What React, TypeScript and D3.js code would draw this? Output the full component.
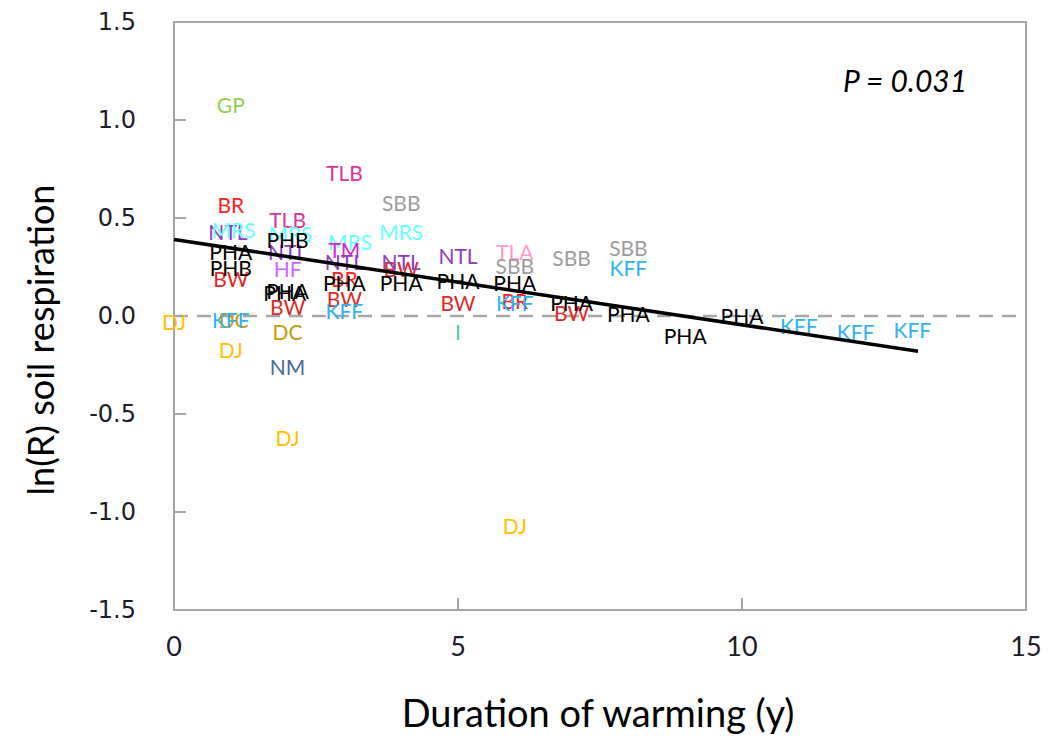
import React, { useEffect } from 'react';
import * as d3 from 'd3';

// site codes, in the order they are drawn (later ones sit on top)
const sites = [
  'DJ', 'GP', 'BR', 'NTL', 'MRS', 'PHA', 'BW', 'PHB', 'DC', 'KFF', 'DJ',
  'TLB', 'MRS', 'NTL', 'PHB', 'HF', 'PHA', 'PHA', 'BW', 'DC', 'NM', 'DJ',
  'TLB', 'MRS', 'TM', 'NTL', 'BR', 'PHA', 'BW', 'KFF',
  'SBB', 'MRS', 'BW', 'NTL', 'PHA',
  'NTL', 'PHA', 'BW', 'I',
  'TLA', 'SBB', 'PHA', 'BR', 'KFF', 'DJ',
  'SBB', 'BW', 'PHA',
  'SBB', 'KFF', 'PHA',
  'PHA', 'PHA', 'KFF', 'KFF', 'KFF',
];
const durations = [
  0, 1.0, 1.0, 0.95, 1.05, 1.0, 1.0, 1.0, 1.05, 1.0, 1.0,
  2.0, 2.05, 2.0, 2.0, 2.0, 1.95, 2.0, 2.0, 2.0, 2.0, 2.0,
  3.0, 3.1, 3.0, 3.0, 3.0, 3.0, 3.0, 3.0,
  4.0, 4.0, 4.0, 4.0, 4.0,
  5.0, 5.0, 5.0, 5.0,
  6.0, 6.0, 6.0, 6.0, 6.0, 6.0,
  7.0, 7.0, 7.0,
  8.0, 8.0, 8.0,
  9.0, 10.0, 11.0, 12.0, 13.0,
];
const lnR = [
  -0.03, 1.08, 0.57, 0.43, 0.44, 0.33, 0.19, 0.25, -0.02, -0.02, -0.17,
  0.49, 0.42, 0.33, 0.39, 0.24, 0.12, 0.13, 0.05, -0.08, -0.26, -0.62,
  0.73, 0.38, 0.34, 0.28, 0.19, 0.17, 0.09, 0.03,
  0.58, 0.43, 0.24, 0.28, 0.17,
  0.31, 0.18, 0.07, -0.08,
  0.33, 0.26, 0.17, 0.08, 0.07, -1.07,
  0.30, 0.02, 0.07,
  0.35, 0.25, 0.015,
  -0.1, 0.005, -0.05, -0.08, -0.07,
];

const xTicks = [0, 5, 10, 15];
const yTicks = [-1.5, -1.0, -0.5, 0.0, 0.5, 1.0, 1.5];

// fitted line: ln(R) = intercept + slope * duration
const fitIntercept = 0.39;
const fitSlope = -0.0435;
const fitRange = [0, 13.1];

const siteColors: Record<string, string> = {
  DJ: '#FFC000',
  GP: '#92D050',
  BR: '#FF2020',
  NTL: '#8E3CC0',
  MRS: '#66FFFF',
  PHA: '#000000',
  PHB: '#000000',
  BW: '#E02828',
  KFF: '#2EB2F0',
  DC: '#CC9A10',
  TLB: '#E0309A',
  HF: '#CC66FF',
  NM: '#4A6A96',
  TM: '#E020D0',
  SBB: '#9C9C9C',
  I: '#4CC8A8',
  TLA: '#FF99CC',
};

export default function App() {
  useEffect(() => {
    document.body.style.margin = '0';
  }, []);

  const width = 1049;
  const height = 736;
  const margin = { top: 22, right: 23, bottom: 126, left: 174 };

  const x = d3.scaleLinear().domain([0, 15]).range([margin.left, width - margin.right]);
  const y = d3.scaleLinear().domain([-1.5, 1.5]).range([height - margin.bottom, margin.top]);

  const points = sites.map((s, i) => ({ site: s, d: durations[i], r: lnR[i] }));
  const fit = d3.line<number>()
    .x(v => x(v))
    .y(v => y(fitIntercept + fitSlope * v));

  const axisGray = '#A6A6A6';
  const labelFont = 'Lato, "Open Sans", sans-serif';

  return (
    <svg width={width} height={height} style={{ display: 'block', background: '#fff' }}>
      {/* plot frame */}
      <rect
        x={x(0)} y={y(1.5)}
        width={x(15) - x(0)} height={y(-1.5) - y(1.5)}
        fill="none" stroke={axisGray} strokeWidth={2}
      />

      {/* y ticks and labels */}
      {yTicks.map(t => (
        <g key={'y' + t}>
          <line x1={x(0)} x2={x(0) + 12} y1={y(t)} y2={y(t)} stroke={axisGray} strokeWidth={2} />
          <text
            x={x(0) - 38} y={y(t)} textAnchor="end" dominantBaseline="central"
            fontFamily="DejaVu Sans, sans-serif" fontSize={24} fill="#1c1c2a"
          >
            {t.toFixed(1)}
          </text>
        </g>
      ))}

      {/* x ticks and labels */}
      {xTicks.map(t => (
        <g key={'x' + t}>
          <line x1={x(t)} x2={x(t)} y1={y(-1.5)} y2={y(-1.5) - 12} stroke={axisGray} strokeWidth={2} />
          <text
            x={x(t)} y={y(-1.5) + 35} textAnchor="middle" dominantBaseline="central"
            fontFamily={labelFont} fontSize={27} fill="#1c1c2a"
          >
            {t}
          </text>
        </g>
      ))}

      {/* zero reference */}
      <line
        x1={x(0)} x2={x(15)} y1={y(0)} y2={y(0)}
        stroke={axisGray} strokeWidth={2.5} strokeDasharray="14 9"
      />

      {/* site labels used as markers */}
      {points.map((p, i) => (
        <text
          key={i}
          x={x(p.d)} y={y(p.r)}
          textAnchor="middle" dominantBaseline="central"
          fontFamily={labelFont} fontSize={21}
          fill={siteColors[p.site]}
        >
          {p.site}
        </text>
      ))}

      {/* regression line */}
      <path d={fit(fitRange) ?? ''} fill="none" stroke="#000" strokeWidth={3.5} />

      <text
        x={905} y={80} textAnchor="middle" dominantBaseline="central"
        fontFamily={labelFont} fontStyle="italic" fontSize={30} fill="#000"
      >
        P = 0.031
      </text>

      {/* axis titles */}
      <text
        x={598} y={712} textAnchor="middle" dominantBaseline="central"
        fontFamily={labelFont} fontSize={38} fill="#000"
      >
        Duration of warming (y)
      </text>
      <text
        transform={`translate(40,340) rotate(-90)`}
        textAnchor="middle" dominantBaseline="central"
        fontFamily={labelFont} fontSize={36} fill="#000"
      >
        ln(R) soil respiration
      </text>
    </svg>
  );
}
